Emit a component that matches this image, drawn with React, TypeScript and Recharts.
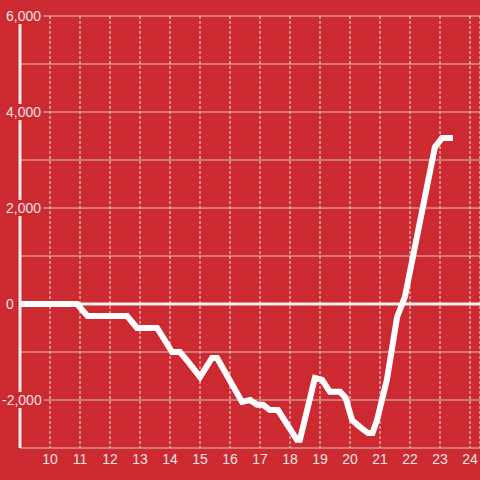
import React from 'react';
import { LineChart, Line, XAxis, YAxis, CartesianGrid, ReferenceLine } from 'recharts';

const xValues = [9, 10.9, 11.25, 12.57, 12.9, 13.57, 14.07, 14.33, 14.6, 15.0, 15.4, 15.57, 16.4, 16.67, 16.9, 17.1, 17.33, 17.6, 18.23, 18.33, 18.83, 19.07, 19.33, 19.67, 19.85, 20.07, 20.33, 20.6, 20.75, 20.9, 21.23, 21.57, 21.83, 22.83, 23.07, 23.33];
const yValues = [0, 0, -250, -250, -500, -500, -1000, -1000, -1200, -1520, -1125, -1125, -2040, -2000, -2100, -2100, -2210, -2210, -2830, -2830, -1540, -1580, -1830, -1830, -1950, -2420, -2560, -2690, -2690, -2420, -1580, -270, 150, 3270, 3460, 3460];

const xTicks = [10, 11, 12, 13, 14, 15, 16, 17, 18, 19, 20, 21, 22, 23, 24];
const yTicks = [-3000, -2000, -1000, 0, 1000, 2000, 3000, 4000, 5000, 6000];
const yLabelled = [-2000, 0, 2000, 4000, 6000];

const BG = '#cc2a30';
const LABEL = '#f2e4e4';

const data = xValues.map((x, i) => ({ x, y: yValues[i] }));

const textWidth = (s: string) =>
  s.split('').reduce((w, c) => w + (c === ',' ? 3.9 : c === '-' ? 4.7 : 7.8), 0);

// labels sit inside the plot, start-aligned, the minus sign hanging to the left
const YTick = (props: any) => {
  const { x, y, payload } = props;
  if (!yLabelled.includes(payload.value)) return null;
  const label = payload.value.toLocaleString('en-US');
  const start = x - 14 - (payload.value < 0 ? 4 : 0);
  const w = textWidth(label);
  return (
    <g>
      <rect x={start - 1} y={y - 8} width={w + 3} height={16} fill={BG} />
      <text x={start} y={y} dy="0.355em" textAnchor="start" fill={LABEL} fontSize={14}>
        {label}
      </text>
    </g>
  );
};

export default function App() {
  return (
    <div style={{ position: 'absolute', left: 0, top: 0, width: 480, height: 480, background: BG }}>
      <LineChart
        width={480}
        height={480}
        data={data}
        margin={{ top: 16, right: 0, left: 0, bottom: 0 }}
        style={{ fontFamily: '"Liberation Sans", Arial, sans-serif' }}
      >
        <CartesianGrid vertical={false} stroke="#cfc9c9" strokeWidth={1} />
        <CartesianGrid horizontal={false} stroke="#ece6e6" strokeDasharray="3 2" strokeWidth={1} />
        <XAxis
          dataKey="x"
          type="number"
          domain={[9, 24 + 1 / 3]}
          ticks={xTicks}
          allowDataOverflow
          axisLine={false}
          tickLine={false}
          tickSize={0}
          tickMargin={6}
          height={32}
          tick={{ fill: LABEL, fontSize: 14 }}
        />
        <YAxis
          type="number"
          domain={[-3000, 6000]}
          ticks={yTicks}
          width={20}
          axisLine={{ stroke: '#f0ebeb', strokeWidth: 3 }}
          tickLine={false}
          tickSize={0}
          tickMargin={0}
          tick={<YTick />}
        />
        <ReferenceLine y={0} stroke="#f7f4f4" strokeWidth={3} />
        <Line
          type="linear"
          dataKey="y"
          stroke="#ffffff"
          strokeWidth={6}
          strokeLinecap="square"
          dot={false}
          activeDot={false}
          isAnimationActive={false}
        />
      </LineChart>
    </div>
  );
}
